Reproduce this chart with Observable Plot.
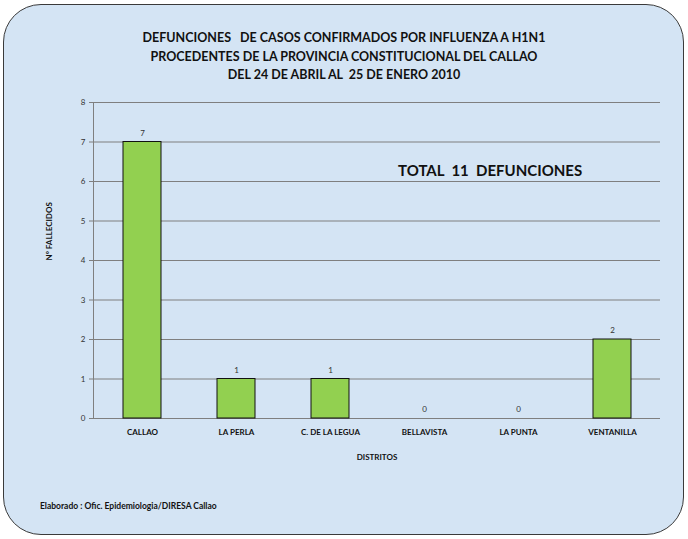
<!DOCTYPE html>
<html><head><meta charset="utf-8">
<script src="https://cdn.jsdelivr.net/npm/d3@7"></script>
<script src="https://cdn.jsdelivr.net/npm/@observablehq/plot@0.6"></script>
<style>
html,body{margin:0;padding:0;width:688px;height:539px;overflow:hidden;background:#fff;}
#frame{position:absolute;left:3px;top:4px;width:679px;height:529px;border:1.5px solid #3a3a3a;border-radius:38px;background:#d4e4f4;}
#title{position:absolute;left:0;top:29px;width:688px;text-align:center;font:bold 12.5px Lato,"Open Sans",sans-serif;line-height:18.5px;color:#111;}
#total{position:absolute;left:398px;top:161px;font:bold 15px Lato,sans-serif;color:#111;white-space:nowrap;}
#foot{position:absolute;left:40px;top:501px;font:bold 8.5px Lato,sans-serif;color:#111;white-space:nowrap;}
#chart{position:absolute;left:0;top:0;}
</style></head>
<body>
<div id="frame"></div>
<div id="title">DEFUNCIONES &nbsp; DE CASOS CONFIRMADOS POR INFLUENZA A H1N1<br>PROCEDENTES DE LA PROVINCIA CONSTITUCIONAL DEL CALLAO<br>DEL 24 DE ABRIL AL &nbsp;25 DE ENERO 2010</div>
<div id="chart"></div>
<div id="total">TOTAL &nbsp;11 &nbsp;DEFUNCIONES</div>
<div id="foot">Elaborado : Ofic. Epidemiologia/DIRESA Callao</div>
<script>
const distritos = ["CALLAO","LA PERLA","C. DE LA LEGUA","BELLAVISTA","LA PUNTA","VENTANILLA"];
const fallecidos = [7,1,1,0,0,2];
const yTicks = [0,1,2,3,4,5,6,7,8];
const data = distritos.map((d,i)=>({distrito:d, valor:fallecidos[i]}));

const chart = Plot.plot({
  width: 688,
  height: 539,
  marginLeft: 93,
  marginRight: 28,
  marginTop: 102,
  marginBottom: 121,
  style: {background: "transparent", fontFamily: "Lato, sans-serif"},
  x: {domain: distritos, paddingInner: 0.6, paddingOuter: 0.3, label: null},
  y: {domain: [0,8], label: null},
  marks: [
    Plot.ruleY(yTicks, {stroke: "#7f7f7f", strokeWidth: 1, insetLeft: -4, strokeOpacity: 1}),
    Plot.frame({anchor: "left", stroke: "#7f7f7f", strokeOpacity: 1}),
    Plot.barY(data, {x: "distrito", y: "valor", fill: "#92d050", stroke: "#111", strokeWidth: 1}),
    Plot.text(data, {x: "distrito", y: "valor", text: d => String(d.valor), dy: -9, fontSize: 8, fill: "#333"}),
    Plot.axisY(yTicks, {tickSize: 0, tickPadding: 8, fontSize: 8, fill: "#333", label: null}),
    Plot.axisX({tickSize: 0, tickPadding: 11, fontSize: 8, fontWeight: "bold", fill: "#111", label: null}),
    Plot.text(["DISTRITOS"], {frameAnchor: "bottom", dy: 41, fontSize: 8, fontWeight: "bold", fill: "#111"}),
    Plot.text(["Nº FALLECIDOS"], {frameAnchor: "left", dx: -44, rotate: -90, fontSize: 8, fontWeight: "bold", fill: "#111"})
  ]
});
document.getElementById("chart").appendChild(chart);
</script>
</body></html>
